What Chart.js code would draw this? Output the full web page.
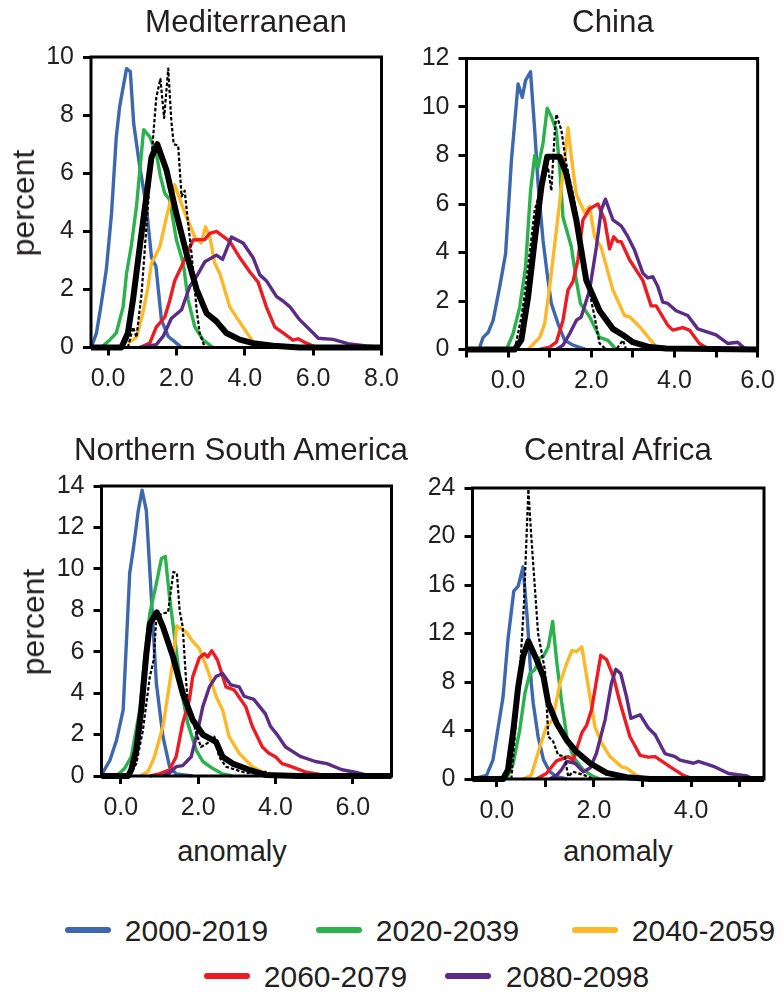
<!DOCTYPE html>
<html>
<head>
<meta charset="utf-8">
<script src="https://cdn.jsdelivr.net/npm/chart.js@4"></script>
<style>
  html, body { margin: 0; padding: 0; background: #fff; }
  body { position: relative; width: 784px; height: 997px; overflow: hidden; font-family: "Liberation Sans", sans-serif; color: #231f20; }
  canvas { position: absolute; }
  .label { position: absolute; white-space: nowrap; transform: translate(-50%, -50%); line-height: 1; }
  .swatch { position: absolute; height: 6px; border-radius: 3px; transform: translateY(-50%); }
</style>
</head>
<body>
<canvas id="med"></canvas>
<canvas id="china"></canvas>
<canvas id="nsa"></canvas>
<canvas id="africa"></canvas>
<script>
// values as [anomaly, percent]
const medBlue = [[-0.49,0],[-0.34,0.5],[-0.2,1.5],[-0.05,2.7],[0.1,4.6],[0.24,7.25],[0.34,8.3],[0.54,9.6],[0.65,9.5],[0.75,7.7],[0.93,6.2],[1.12,4.85],[1.27,3.1],[1.4,2.8],[1.56,0.95],[1.76,0.38],[2,0.15],[2.15,0]];
const medGreen = [[-0.2,0],[0.05,0.26],[0.24,0.5],[0.44,1.4],[0.54,2.55],[0.68,3.5],[0.83,4.85],[1.04,7.5],[1.22,7.25],[1.41,6.7],[1.53,5.9],[1.66,5.3],[1.8,5.1],[2,3.7],[2.2,2.9],[2.34,1.65],[2.54,0.7],[2.78,0.26],[3.07,0]];
const medOrange = [[0.58,0.15],[0.83,0.35],[1.02,1.2],[1.17,2.1],[1.27,2.9],[1.51,3.45],[1.71,4.5],[1.95,5.6],[2.1,5.1],[2.29,4.5],[2.54,3.8],[2.73,3.6],[2.85,4.15],[2.98,3.8],[3.12,2.9],[3.27,2.55],[3.56,1.4],[3.95,0.7],[4.3,0.1],[4.54,0]];
const medRed = [[0.93,0],[1.22,0.15],[1.41,0.7],[1.66,1.05],[1.8,1.6],[1.95,2.3],[2.15,2.8],[2.39,3.45],[2.49,3.7],[2.83,3.72],[2.98,3.93],[3.17,4],[3.56,3.65],[3.85,3.1],[4.15,2.6],[4.39,2.25],[4.63,1.4],[4.88,0.7],[5.12,0.5],[5.41,0.25],[5.56,0.3],[5.8,0.15],[6.1,0]];
const medPurple = [[0.93,0],[1.41,0.1],[1.61,0.38],[1.85,1],[2.15,1.3],[2.39,2.1],[2.59,2.45],[2.83,2.95],[3.17,3.18],[3.35,3.03],[3.61,3.8],[3.95,3.6],[4.24,3.1],[4.44,2.5],[4.63,2.3],[4.93,1.75],[5.12,1.6],[5.32,1.4],[5.61,0.95],[6,0.5],[6.15,0.32],[6.58,0.28],[7.07,0.12],[7.56,0.05],[8,0]];
const medDashed = [[0.58,0],[0.73,0.7],[0.83,0.35],[0.98,1.85],[1.12,4.15],[1.27,6.55],[1.41,8.6],[1.53,9.25],[1.64,7.9],[1.76,9.6],[1.85,7.8],[1.92,7],[2.05,6.95],[2.15,5.2],[2.24,5.4],[2.34,4.3],[2.44,3.25],[2.59,1.3],[2.68,0.5],[2.83,0]];
const medBlack = [[-0.5,0],[0.39,0],[0.58,0.5],[0.73,1.65],[0.93,3.5],[1.12,5.2],[1.27,6.55],[1.44,7],[1.71,6.1],[2,4.6],[2.29,3.25],[2.59,2],[2.88,1.18],[3.17,0.9],[3.46,0.5],[3.85,0.27],[4.24,0.15],[4.83,0.06],[5.6,0],[8,0]];

const chinaBlue = [[-0.96,0],[-0.7,0],[-0.6,0.5],[-0.48,0.7],[-0.36,1.2],[-0.2,2.6],[-0.06,3.95],[0.08,7.8],[0.24,10.95],[0.34,10.4],[0.42,11.1],[0.54,11.45],[0.64,9.05],[0.72,6.85],[0.84,4.5],[0.96,2.85],[1.04,1.9],[1.2,1.07],[1.36,0.38],[1.56,0.18],[1.88,0]];
const chinaGreen = [[-0.04,0],[0.12,0.65],[0.28,1.75],[0.42,3.4],[0.54,6.55],[0.64,8],[0.72,7.5],[0.84,8.5],[0.94,9.95],[1.04,9.6],[1.16,9.05],[1.24,7.5],[1.32,5.45],[1.52,4.25],[1.64,2.85],[1.74,1.9],[1.96,1.35],[2.2,0.5],[2.4,0.38],[2.6,0]];
const chinaOrange = [[0.48,0],[0.76,0.5],[0.88,1.07],[1,2.6],[1.16,4.9],[1.32,7.25],[1.44,9.15],[1.52,7.95],[1.64,6.4],[1.84,5.65],[1.96,5.9],[2.08,4.65],[2.24,4.2],[2.52,2.45],[2.8,1.4],[2.92,1.35],[3.16,0.95],[3.52,0.2],[3.6,0]];
const chinaRed = [[0.76,0],[1,0.1],[1.16,0.3],[1.32,1.2],[1.44,2.45],[1.56,2.8],[1.68,3.7],[1.8,5.35],[1.96,5.8],[2.16,6],[2.32,5.35],[2.44,4.15],[2.54,4.65],[2.64,4.45],[2.72,4.45],[2.92,3.7],[3.24,2.85],[3.44,1.8],[3.56,1.8],[3.84,1],[3.96,0.8],[4.2,0.9],[4.36,0.8],[4.6,0.25],[4.84,0]];
const chinaPurple = [[1.16,0],[1.32,0.18],[1.48,0.65],[1.64,1.2],[1.76,1.35],[1.96,2.45],[2.12,4.2],[2.24,5.75],[2.34,6.2],[2.52,5.35],[2.72,5.1],[2.88,4.65],[3.04,4.1],[3.24,3.15],[3.36,2.95],[3.48,3],[3.6,2.6],[3.72,1.95],[3.84,1.9],[4.04,1.6],[4.32,1.4],[4.56,0.85],[5,0.6],[5.28,0.25],[5.52,0.3],[5.72,0]];
const chinaDashed = [[0.16,0],[0.32,1.35],[0.38,2],[0.48,3.4],[0.64,5.75],[0.8,6.7],[0.96,7.5],[1.04,6.55],[1.12,8.9],[1.16,9.7],[1.28,9.05],[1.4,7.65],[1.56,6.4],[1.72,4.9],[1.88,3],[2.08,1.35],[2.2,0.25],[2.36,0],[2.6,0],[2.76,0.38],[2.84,0]];
const chinaBlack = [[-1,0],[0.16,0],[0.32,0.4],[0.48,2.15],[0.64,4.5],[0.8,6.7],[0.94,7.95],[1.24,7.95],[1.4,7.25],[1.64,5.35],[1.88,2.85],[2.2,1.6],[2.52,0.85],[2.76,0.6],[3,0.3],[3.4,0.1],[3.8,0.04],[6,0]];

const nsaBlue = [[-0.5,0.05],[-0.28,0.77],[-0.11,1.74],[0.06,3.18],[0.23,9.8],[0.33,11.05],[0.45,12.8],[0.55,13.8],[0.66,12.8],[0.75,9.9],[0.83,7.35],[0.92,4.45],[1.09,1.9],[1.26,0.45],[1.43,0.1],[1.86,0]];
const nsaGreen = [[-0.11,0],[0.1,0.37],[0.27,0.93],[0.49,3.18],[0.62,5.75],[0.75,7.85],[0.92,9.3],[1.05,10.5],[1.15,10.6],[1.26,8.65],[1.39,6.7],[1.56,4.15],[1.73,2.55],[1.95,1.25],[2.12,0.7],[2.37,0.37],[2.63,0.1],[2.89,0]];
const nsaOrange = [[0.49,0],[0.7,0.2],[0.87,0.93],[1.09,2.4],[1.26,4.45],[1.35,5.6],[1.45,7.25],[1.69,6.95],[1.86,6.5],[2.03,6.15],[2.25,5.1],[2.46,3.85],[2.63,3.2],[2.8,1.9],[3.06,1.1],[3.4,0.45],[3.74,0.13],[4,0]];
const nsaRed = [[0.75,0],[1,0.1],[1.26,0.3],[1.43,0.93],[1.6,2.55],[1.77,3.65],[1.86,4.8],[2.03,5.7],[2.16,5.9],[2.25,5.75],[2.35,6.05],[2.5,5.6],[2.72,4.3],[2.93,4.15],[3.23,3.35],[3.4,2.4],[3.66,1.4],[3.83,1.1],[4,0.93],[4.17,0.6],[4.34,0.5],[4.77,0.2],[5.29,0.03],[5.46,0]];
const nsaPurple = [[1.09,0],[1.26,0.15],[1.43,0.45],[1.6,0.5],[1.82,0.93],[1.99,2.2],[2.12,3.35],[2.29,4.3],[2.46,4.8],[2.63,4.95],[2.84,4.4],[3.06,4.3],[3.19,3.85],[3.44,3.7],[3.74,3],[3.87,2.4],[4.04,2],[4.26,1.4],[4.64,0.95],[5.03,0.7],[5.33,0.6],[5.72,0.3],[6.06,0.18],[6.4,0.03],[7,0]];
const nsaDashed = [[0.23,0],[0.4,0.6],[0.57,2.2],[0.75,4.8],[0.85,5.6],[0.92,7.7],[1.09,7.85],[1.22,7.9],[1.36,9.85],[1.45,9.8],[1.52,8],[1.6,7.2],[1.67,5.1],[1.73,3.5],[1.9,2.4],[2.07,1.4],[2.25,1.6],[2.42,1.9],[2.54,0.93],[2.72,0.45],[2.97,0.3],[3.23,0.15],[3.74,0.2],[4,0]];
const nsaBlack = [[-0.5,0],[0.19,0],[0.27,0.3],[0.4,1.25],[0.53,3.2],[0.66,5.9],[0.75,7.35],[0.93,7.9],[1.09,7.2],[1.35,5.75],[1.6,4],[1.86,2.7],[2.12,2],[2.46,1.65],[2.63,0.93],[2.89,0.6],[3.32,0.3],[3.74,0.05],[4.6,0],[7,0]];

const africaBlue = [[-0.49,0],[-0.21,0.3],[-0.08,1.55],[0.13,6.8],[0.23,11.5],[0.35,15.5],[0.44,15.9],[0.54,17.5],[0.63,13.1],[0.71,7.9],[0.75,6.25],[0.85,3.5],[0.96,1.6],[1.09,0.6],[1.23,0.2],[1.44,0]];
const africaGreen = [[0.2,0],[0.34,1.3],[0.47,4],[0.58,7.1],[0.68,8.7],[0.78,9],[0.89,10],[0.96,10.1],[1.06,10.9],[1.15,13],[1.23,9.8],[1.33,6.5],[1.44,3.5],[1.57,1.85],[1.78,0.75],[1.99,0.2],[2.12,0]];
const africaOrange = [[0.54,0],[0.71,0.3],[0.89,2.7],[1.02,4.3],[1.15,4.9],[1.3,7.9],[1.44,9.55],[1.55,10.6],[1.64,10.5],[1.75,10.9],[1.85,8.45],[2.02,4.3],[2.16,2.95],[2.33,1.85],[2.57,1],[2.67,0.9],[2.88,0.3],[3.09,0]];
const africaRed = [[0.82,0],[1.02,0.45],[1.23,1.5],[1.47,1.85],[1.57,1.55],[1.75,3.8],[1.85,4.45],[1.95,5.7],[2.14,10.2],[2.26,9.85],[2.4,8.45],[2.54,6.25],[2.74,3.5],[2.95,1.95],[3.12,1.8],[3.26,1.85],[3.57,1],[3.84,0.3],[4.05,0]];
const africaPurple = [[1.09,0],[1.23,0.3],[1.33,0.75],[1.44,1.45],[1.61,1.3],[1.78,0.6],[1.92,0.9],[2.05,2.1],[2.23,4.9],[2.36,7.9],[2.45,9.05],[2.55,8.7],[2.67,6.8],[2.76,5],[2.95,5.3],[3.12,4.2],[3.26,3.65],[3.46,2.1],[3.67,1.85],[3.77,1.55],[4.05,1.3],[4.15,1.45],[4.46,1.05],[4.77,0.45],[5.15,0.25],[5.29,0]];
const africaDashed = [[0.3,0],[0.37,3.5],[0.47,8.45],[0.56,14.5],[0.65,23.9],[0.71,20],[0.85,12],[0.99,9],[1.06,3.5],[1.16,3.1],[1.26,2],[1.4,1.85],[1.47,0.2],[1.57,0.6],[1.81,0.3],[1.99,0]];
const africaBlack = [[-0.5,0],[0.13,0],[0.23,0.75],[0.34,4],[0.44,7.6],[0.54,10.1],[0.65,11.35],[0.82,9.85],[0.96,8.45],[1.06,6.25],[1.23,4.6],[1.44,3.2],[1.64,2.25],[1.92,1.3],[2.26,0.5],[2.67,0.15],[3.15,0],[5.5,0]];

// tick values and their labels
const medXTicks = [0, 2, 4, 6, 8];
const medXLabels = ['0.0', '2.0', '4.0', '6.0', '8.0'];
const medYTicks = [0, 2, 4, 6, 8, 10];
const chinaXTicks = [-1, 0, 1, 2, 3, 4, 5, 6];
const chinaXLabels = ['', '0.0', '', '2.0', '', '4.0', '', '6.0'];
const chinaYTicks = [0, 2, 4, 6, 8, 10, 12];
const nsaXTicks = [0, 2, 4, 6];
const nsaXLabels = ['0.0', '2.0', '4.0', '6.0'];
const nsaYTicks = [0, 2, 4, 6, 8, 10, 12, 14];
const africaXTicks = [0, 1, 2, 3, 4, 5];
const africaXLabels = ['0.0', '', '2.0', '', '4.0', ''];
const africaYTicks = [0, 4, 8, 12, 16, 20, 24];

const periods = ['2000-2019', '2020-2039', '2040-2059', '2060-2079', '2080-2098'];
const periodColors = ['#3d68ae', '#2bb24c', '#fdb827', '#ed1c24', '#5b2c86'];

// draws the box round the plot area
const framePlugin = {
  id: 'frame',
  afterDraw(chart) {
    const a = chart.chartArea, ctx = chart.ctx;
    ctx.save();
    ctx.strokeStyle = '#000';
    ctx.lineWidth = 3;
    ctx.strokeRect(a.left, a.top, a.right - a.left, a.bottom - a.top);
    ctx.restore();
  }
};

function toPoints(pairs) {
  return pairs.map(p => ({ x: p[0], y: p[1] }));
}

function makePanel(id, box, plot, series, xRange, yMax, xTicks, xLabels, yTicks) {
  const canvas = document.getElementById(id);
  canvas.width = box.w;
  canvas.height = box.h;
  canvas.style.left = box.x + 'px';
  canvas.style.top = box.y + 'px';

  // first dataset is drawn last, so the thick black line goes first
  const datasets = [
    { data: toPoints(series[6]), borderColor: '#000', borderWidth: 6 },
    { data: toPoints(series[5]), borderColor: '#000', borderWidth: 2.2, borderDash: [3.5, 2] }
  ];
  for (let i = 4; i >= 0; i--) {
    datasets.push({ data: toPoints(series[i]), borderColor: periodColors[i], borderWidth: 3.4 });
  }
  datasets.forEach(d => { d.pointRadius = 0; d.tension = 0; d.clip = false; d.borderJoinStyle = 'round'; });

  new Chart(canvas, {
    type: 'line',
    data: { datasets: datasets },
    plugins: [framePlugin],
    options: {
      responsive: false,
      animation: false,
      devicePixelRatio: 1,
      layout: { padding: { top: plot.top - box.y, right: box.x + box.w - plot.right, left: 0, bottom: 0 } },
      plugins: { legend: { display: false }, title: { display: false }, tooltip: { enabled: false } },
      scales: {
        x: {
          type: 'linear',
          min: xRange[0],
          max: xRange[1],
          afterBuildTicks: s => { s.ticks = xTicks.map(v => ({ value: v })); },
          afterFit: s => { s.height = box.y + box.h - plot.bottom; },
          grid: { drawOnChartArea: false, tickLength: 8, tickWidth: 3, tickColor: '#000' },
          border: { display: false },
          ticks: {
            autoSkip: false, maxRotation: 0, padding: 9, color: '#231f20',
            font: { family: 'Liberation Sans', size: 25 },
            callback: (v, i) => xLabels[i]
          }
        },
        y: {
          min: 0,
          max: yMax,
          afterBuildTicks: s => { s.ticks = yTicks.map(v => ({ value: v })); },
          afterFit: s => { s.width = plot.left - box.x; },
          grid: { drawOnChartArea: false, tickLength: 8, tickWidth: 3, tickColor: '#000' },
          border: { display: false },
          ticks: {
            autoSkip: false, padding: 9, color: '#231f20',
            font: { family: 'Liberation Sans', size: 25 },
            callback: v => String(v)
          }
        }
      }
    }
  });
}

makePanel('med', { x: 0, y: 30, w: 412, h: 370 }, { left: 91, right: 381.5, top: 57, bottom: 347.5 },
  [medBlue, medGreen, medOrange, medRed, medPurple, medDashed, medBlack],
  [-0.5, 8], 10, medXTicks, medXLabels, medYTicks);
makePanel('china', { x: 402, y: 30, w: 382, h: 370 }, { left: 466.5, right: 758, top: 58.5, bottom: 349.5 },
  [chinaBlue, chinaGreen, chinaOrange, chinaRed, chinaPurple, chinaDashed, chinaBlack],
  [-1, 6], 12, chinaXTicks, chinaXLabels, chinaYTicks);
makePanel('nsa', { x: 0, y: 460, w: 422, h: 370 }, { left: 101.5, right: 391.5, top: 486, bottom: 776 },
  [nsaBlue, nsaGreen, nsaOrange, nsaRed, nsaPurple, nsaDashed, nsaBlack],
  [-0.5, 7], 14, nsaXTicks, nsaXLabels, nsaYTicks);
makePanel('africa', { x: 402, y: 460, w: 382, h: 370 }, { left: 472.5, right: 764, top: 488, bottom: 779 },
  [africaBlue, africaGreen, africaOrange, africaRed, africaPurple, africaDashed, africaBlack],
  [-0.5, 5.5], 24, africaXTicks, africaXLabels, africaYTicks);

// titles, axis names and legend are plain text placed over the page
function addLabel(text, cx, cy, size, rotate) {
  const el = document.createElement('div');
  el.className = 'label';
  el.textContent = text;
  el.style.left = cx + 'px';
  el.style.top = cy + 'px';
  el.style.fontSize = size + 'px';
  if (rotate) el.style.transform = 'translate(-50%, -50%) rotate(-90deg)';
  document.body.appendChild(el);
}

addLabel('Mediterranean', 246, 22, 31.3);
addLabel('China', 613, 22, 31.3);
addLabel('Northern South America', 241, 450, 31.3);
addLabel('Central Africa', 618, 450, 31.3);
addLabel('percent', 23, 203, 32, true);
addLabel('percent', 33, 622, 32, true);
addLabel('anomaly', 232, 851, 29);
addLabel('anomaly', 618, 851, 29);

const legendRows = [[0, 65, 196.5, 931], [1, 316, 447.5, 931], [2, 572, 703.5, 931], [3, 204, 335.5, 977], [4, 445, 577.5, 977]];
legendRows.forEach(r => {
  const sw = document.createElement('div');
  sw.className = 'swatch';
  sw.style.left = r[1] + 'px';
  sw.style.top = (r[3] - 1) + 'px';
  sw.style.width = '46px';
  sw.style.background = periodColors[r[0]];
  document.body.appendChild(sw);
  addLabel(periods[r[0]], r[2], r[3], 30);
});
</script>
</body>
</html>
